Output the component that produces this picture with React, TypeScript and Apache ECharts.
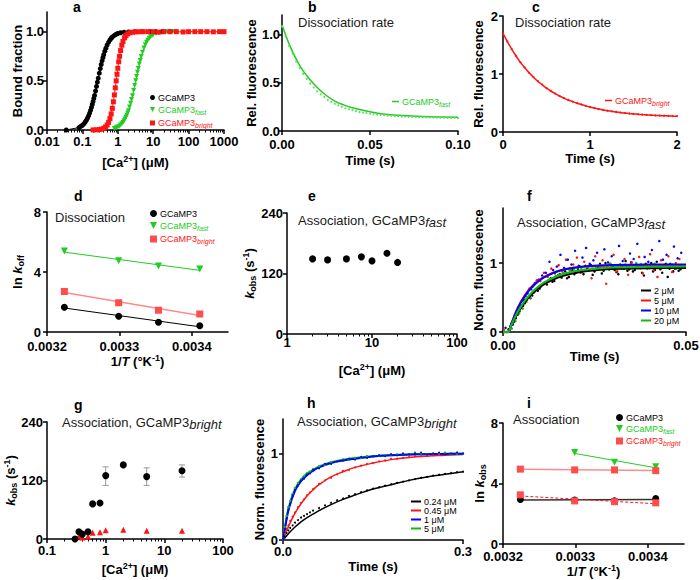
import React, { useEffect, useRef } from 'react';
import * as echarts from 'echarts';

const FONT = '"Liberation Sans", Arial, Helvetica, sans-serif';
const BLACK = '#000000';
const TEXT = '#1a1a1a';
const GREEN = '#22cc22';
const GREEN_DOT = '#66d966';
const RED = '#ff1414';
const LIGHT_RED = '#ff4d4d';
const PINK = '#ff8a8a';
const BLUE = '#0000ff';
const GREY = '#9a9a9a';

// ---------- a: Ca2+ titrations ----------
const A_TICKS = [0.01, 0.1, 1, 10, 100, 1000];
const A_G3_X = [0.035, 0.08, 0.09, 0.1, 0.11, 0.12, 0.13, 0.14, 0.15, 0.16, 0.17, 0.18, 0.19, 0.2, 0.21, 0.22, 0.235, 0.25, 0.265, 0.28, 0.3, 0.32, 0.34, 0.36, 0.38, 0.4, 0.43, 0.46, 0.5, 0.55, 0.6, 0.65, 0.7, 0.8, 0.9, 1.0, 1.2, 1.5, 2, 3, 5, 8, 12, 18, 30];
const A_G3_Y = [0, 0.025, 0.036, 0.048, 0.063, 0.081, 0.1, 0.122, 0.146, 0.172, 0.2, 0.229, 0.259, 0.289, 0.32, 0.351, 0.397, 0.443, 0.486, 0.527, 0.578, 0.625, 0.666, 0.703, 0.736, 0.765, 0.802, 0.832, 0.864, 0.894, 0.916, 0.933, 0.946, 0.963, 0.974, 0.981, 0.989, 0.994, 0.997, 0.999, 1.0, 1.0, 1.0, 1.0, 1.0];
const A_FAST_X = [0.8, 0.9, 1.0, 1.1, 1.2, 1.3, 1.4, 1.5, 1.6, 1.7, 1.8, 1.9, 2.0, 2.15, 2.3, 2.45, 2.6, 2.8, 3.0, 3.2, 3.4, 3.6, 3.8, 4.05, 4.3, 4.6, 5, 5.5, 6, 6.5, 7, 7.7, 8.5, 9.3, 10, 12, 14, 17, 20, 25, 32, 40];
const A_FAST_Y = [0.015, 0.022, 0.03, 0.039, 0.05, 0.063, 0.077, 0.093, 0.111, 0.13, 0.151, 0.173, 0.196, 0.233, 0.271, 0.31, 0.349, 0.401, 0.452, 0.5, 0.545, 0.587, 0.626, 0.67, 0.708, 0.748, 0.79, 0.835, 0.868, 0.893, 0.913, 0.933, 0.949, 0.961, 0.968, 0.981, 0.988, 0.993, 0.996, 0.998, 0.999, 1.0];
const A_BRIGHT_X = [0.2, 0.25, 0.3, 0.35, 0.4, 0.45, 0.5, 0.55, 0.6, 0.65, 0.7, 0.75, 0.8, 0.85, 0.9, 0.95, 1.0, 1.06, 1.12, 1.2, 1.3, 1.4, 1.55, 1.7, 1.9, 2.2, 2.6, 3.2, 4, 5, 7, 10, 14, 20, 30, 45, 70, 100, 150, 220, 330, 500, 750, 1000];
const A_BRIGHT_Y = [0.001, 0.002, 0.004, 0.009, 0.017, 0.03, 0.05, 0.078, 0.116, 0.164, 0.22, 0.287, 0.357, 0.429, 0.5, 0.567, 0.628, 0.694, 0.749, 0.808, 0.862, 0.9, 0.938, 0.96, 0.977, 0.989, 0.995, 0.998, 0.999, 1.0, 1.0, 1.0, 0.995, 1.0, 1.0, 1.0, 0.997, 1.0, 1.0, 1.0, 1.0, 0.998, 1.0, 1.0];

// ---------- b: dissociation, GCaMP3fast ----------
const B_FIT_T = [0, 0.005, 0.01, 0.015, 0.02, 0.025, 0.03, 0.035, 0.04, 0.05, 0.06, 0.07, 0.08, 0.09, 0.1];
const B_FIT_Y = [1.1, 0.86, 0.68, 0.55, 0.45, 0.37, 0.31, 0.27, 0.24, 0.2, 0.17, 0.16, 0.15, 0.145, 0.143];
const B_DOT_STEP = 0.002;
const B_DOT_Y = [1.08, 0.98, 0.88, 0.8, 0.72, 0.65, 0.59, 0.54, 0.49, 0.45, 0.41, 0.38, 0.35, 0.32, 0.3, 0.28, 0.265, 0.25, 0.235, 0.225, 0.215, 0.205, 0.195, 0.19, 0.185, 0.18, 0.175, 0.17, 0.168, 0.165, 0.16, 0.158, 0.155, 0.152, 0.15, 0.148, 0.147, 0.145, 0.144, 0.143, 0.142, 0.141, 0.14, 0.139, 0.138, 0.138, 0.137, 0.136, 0.135, 0.135, 0.134];

// ---------- c: dissociation, GCaMP3bright ----------
const C_STEP = 0.05;
const C_Y = [1.7, 1.56, 1.43, 1.31, 1.2, 1.11, 1.02, 0.945, 0.875, 0.815, 0.757, 0.707, 0.662, 0.62, 0.585, 0.552, 0.523, 0.497, 0.474, 0.45, 0.43, 0.412, 0.396, 0.381, 0.368, 0.356, 0.345, 0.335, 0.327, 0.319, 0.312, 0.306, 0.3, 0.295, 0.29, 0.286, 0.283, 0.28, 0.277, 0.274, 0.272];

// ---------- d: Arrhenius, dissociation ----------
const D_INV_T = [0.003224, 0.003299, 0.003354, 0.003411];
const D_G3 = [1.65, 1.05, 0.65, 0.42];
const D_FAST = [5.4, 4.75, 4.4, 4.2];
const D_BRIGHT = [2.7, 1.95, 1.45, 1.2];

// ---------- e: association, GCaMP3fast ----------
const E_CA = [2, 3, 5, 7.5, 10, 15, 20];
const E_KOBS = [149, 147, 149, 153, 145, 160, 142];
const E_SEM = [2, 4, 4, 2, 2, 2, 2];

// ---------- f: association traces, GCaMP3fast ----------
const F_STEP = 0.001;
const F_2 = [0.02, 0.0, 0.08, 0.15, 0.25, 0.35, 0.42, 0.5, 0.53, 0.62, 0.63, 0.7, 0.69, 0.78, 0.74, 0.82, 0.79, 0.88, 0.8, 0.9, 0.86, 0.95, 0.84, 0.92, 0.97, 0.88, 0.93, 0.85, 1.0, 0.91, 0.95, 0.87, 0.98, 0.92, 0.89, 1.01, 0.9, 0.96, 0.86, 0.99, 0.93, 0.88, 1.02, 0.91, 0.95, 0.8, 0.97, 0.92, 0.89];
const F_2B = [0.0, 0.04, 0.11, 0.2, 0.3, 0.38, 0.47, 0.49, 0.58, 0.6, 0.68, 0.72, 0.74, 0.73, 0.8, 0.84, 0.83, 0.78, 0.89, 0.84, 0.91, 0.87, 0.96, 0.9, 0.83, 0.94, 0.99, 0.89, 0.93, 0.97, 0.9, 0.84, 0.95, 1.03, 0.91, 0.88, 0.97, 0.93, 0.82, 0.96, 1.0, 0.9, 0.94, 0.86, 0.99, 0.92, 0.88, 0.95, 0.91];
const F_5 = [0.03, 0.0, 0.12, 0.24, 0.36, 0.45, 0.52, 0.63, 0.66, 0.75, 0.74, 0.86, 0.8, 0.92, 0.85, 0.97, 0.88, 1.05, 0.9, 0.98, 1.08, 0.86, 1.02, 0.95, 0.78, 1.1, 0.92, 1.04, 0.7, 0.99, 1.12, 0.88, 0.96, 1.06, 0.83, 1.01, 0.93, 1.09, 0.85, 0.98, 1.13, 0.9, 0.8, 1.04, 0.95, 1.1, 0.87, 1.0, 1.06];
const F_10 = [0.06, 0.02, 0.11, 0.25, 0.38, 0.47, 0.56, 0.62, 0.71, 0.76, 0.82, 0.86, 1.02, 0.9, 0.95, 1.12, 0.93, 1.05, 0.98, 1.18, 0.96, 1.08, 1.22, 0.99, 1.04, 1.15, 0.92, 1.2, 1.01, 1.1, 0.97, 1.25, 1.03, 0.94, 1.14, 1.06, 1.28, 0.98, 1.09, 1.02, 1.19, 0.95, 1.32, 1.05, 1.12, 0.99, 1.24, 1.07, 1.15];
const F_20 = [0.0, 0.01, 0.05, 0.16, 0.27, 0.34, 0.44, 0.5, 0.57, 0.63, 0.66, 0.72, 0.75, 0.78, 0.81, 0.83, 0.86, 0.85, 0.89, 0.91, 0.88, 0.93, 0.9, 0.96, 0.92, 0.94, 0.97, 0.91, 0.95, 0.99, 0.93, 0.96, 0.92, 0.98, 0.95, 0.93, 1.0, 0.94, 0.97, 0.92, 0.96, 0.99, 0.93, 0.95, 0.97, 0.94, 0.98, 0.92, 0.96];
const F_FIT_T = [0, 0.0015, 0.002, 0.004, 0.006, 0.008, 0.01, 0.012, 0.015, 0.018, 0.022, 0.026, 0.03, 0.04, 0.05];
const F_FIT_2 = [0, 0, 0.063, 0.274, 0.434, 0.555, 0.647, 0.716, 0.79, 0.838, 0.877, 0.9, 0.913, 0.926, 0.929];
const F_FIT_5 = [0, 0, 0.083, 0.351, 0.538, 0.669, 0.76, 0.823, 0.885, 0.921, 0.946, 0.958, 0.964, 0.969, 0.97];
const F_FIT_10 = [0, 0, 0.079, 0.339, 0.524, 0.656, 0.749, 0.815, 0.881, 0.921, 0.95, 0.965, 0.972, 0.979, 0.98];
const F_FIT_20 = [0, 0, 0.067, 0.289, 0.455, 0.58, 0.674, 0.743, 0.816, 0.864, 0.902, 0.923, 0.935, 0.946, 0.949];

// ---------- g: association, GCaMP3bright ----------
const G_X = [0.3, 0.35, 0.4, 0.5, 0.6, 0.8, 1, 2, 5, 20];
const G_Y = [0, 15, 10, 15, 72, 74, 130, 152, 128, 140];
const G_ERR_X = [1, 5, 20];
const G_ERR_LO = [110, 110, 127];
const G_ERR_HI = [148, 146, 152];
const G_RED_X = [0.35, 0.4, 0.5, 0.6, 0.8, 1, 2, 5, 20];
const G_RED_Y = [6, 3, 5, 13, 14, 18, 19, 17, 17];

// ---------- h: association traces, GCaMP3bright ----------
const H_FIT_T = [0, 0.005, 0.01, 0.02, 0.03, 0.04, 0.05, 0.06, 0.08, 0.1, 0.12, 0.15, 0.18, 0.21, 0.24, 0.27, 0.3];
const H_FIT_024 = [0, 0.04, 0.08, 0.15, 0.21, 0.26, 0.3, 0.34, 0.41, 0.47, 0.52, 0.59, 0.64, 0.69, 0.73, 0.76, 0.79];
const H_FIT_045 = [0, 0.09, 0.17, 0.31, 0.42, 0.51, 0.58, 0.64, 0.73, 0.79, 0.84, 0.89, 0.93, 0.955, 0.97, 0.98, 0.99];
const H_FIT_1 = [0, 0.2, 0.37, 0.57, 0.68, 0.75, 0.8, 0.84, 0.89, 0.92, 0.94, 0.965, 0.98, 0.988, 0.993, 0.996, 0.998];
const H_FIT_5 = [0, 0.22, 0.39, 0.59, 0.7, 0.77, 0.81, 0.85, 0.9, 0.93, 0.95, 0.97, 0.982, 0.99, 0.995, 0.997, 0.998];
const H_DOT_T = [0, 0.003, 0.006, 0.009, 0.012, 0.016, 0.02, 0.025, 0.03, 0.035, 0.04, 0.045, 0.05, 0.06, 0.07, 0.08, 0.09, 0.1, 0.11, 0.12, 0.13, 0.14, 0.15, 0.16, 0.17, 0.18, 0.19, 0.2, 0.21, 0.22, 0.23, 0.24, 0.25, 0.26, 0.27, 0.28, 0.29, 0.3];
const H_DOT_024 = [0, 0.04, 0.08, 0.11, 0.14, 0.17, 0.2, 0.23, 0.26, 0.28, 0.3, 0.32, 0.34, 0.37, 0.4, 0.43, 0.46, 0.48, 0.51, 0.53, 0.555, 0.575, 0.595, 0.61, 0.63, 0.645, 0.66, 0.675, 0.69, 0.705, 0.72, 0.73, 0.745, 0.755, 0.765, 0.775, 0.785, 0.79];
const H_DOT_045 = [0, 0.07, 0.13, 0.17, 0.22, 0.27, 0.32, 0.38, 0.43, 0.47, 0.52, 0.55, 0.59, 0.65, 0.69, 0.72, 0.76, 0.8, 0.81, 0.84, 0.86, 0.88, 0.89, 0.91, 0.92, 0.94, 0.94, 0.95, 0.96, 0.97, 0.97, 0.98, 0.98, 0.99, 0.99, 1.0, 1.01, 1.0];
const H_DOT_1 = [0, 0.13, 0.25, 0.35, 0.42, 0.52, 0.58, 0.63, 0.69, 0.71, 0.76, 0.77, 0.81, 0.83, 0.88, 0.88, 0.91, 0.92, 0.94, 0.93, 0.96, 0.95, 0.97, 0.98, 0.97, 0.99, 0.98, 1.0, 0.99, 1.0, 1.01, 0.99, 1.0, 1.01, 0.99, 1.0, 1.01, 1.0];
const H_DOT_5 = [0, 0.15, 0.28, 0.38, 0.45, 0.53, 0.6, 0.66, 0.7, 0.74, 0.77, 0.79, 0.82, 0.85, 0.87, 0.9, 0.91, 0.93, 0.93, 0.95, 0.95, 0.97, 0.97, 0.98, 0.98, 0.99, 0.99, 1.0, 0.99, 1.01, 1.0, 0.99, 1.0, 1.0, 1.01, 0.99, 1.0, 1.0];

// ---------- i: Arrhenius, association ----------
const I_INV_T = [0.003224, 0.003299, 0.003354, 0.003411];
const I_G3 = [2.95, 2.9, 2.85, 3.0];
const I_FAST_X = [0.003299, 0.003354, 0.003411];
const I_FAST = [6.05, 5.4, 5.1];
const I_BRIGHT_HI = [4.95, 4.9, 4.9, 4.85];
const I_BRIGHT_LO = [3.25, 2.85, 2.8, 2.72];

// ---------- helpers ----------
const zip = (xs: number[], ys: number[]) => xs.map((x, i) => [x, ys[i]]);
const stepped = (step: number, ys: number[], offset = 0) => ys.map((y, i) => [offset + i * step, y]);
const linFit = (xs: number[], ys: number[]) => {
  const n = xs.length;
  const mx = xs.reduce((s, v) => s + v, 0) / n;
  const my = ys.reduce((s, v) => s + v, 0) / n;
  let sxx = 0, sxy = 0;
  for (let i = 0; i < n; i++) { sxx += (xs[i] - mx) ** 2; sxy += (xs[i] - mx) * (ys[i] - my); }
  const k = sxy / sxx;
  return [[xs[0], my + k * (xs[0] - mx)], [xs[n - 1], my + k * (xs[n - 1] - mx)]];
};
const minors = (decades: number[]) => decades.flatMap((d) => [2, 3, 4, 5, 6, 7, 8, 9].map((m) => +(m * d).toPrecision(3)));

const TRI_DOWN = 'path://M0,0 L10,0 L5,9 Z';

const NAME_RICH = {
  b: { fontFamily: FONT, fontWeight: 'bold', fontSize: 13, color: BLACK },
  bi: { fontFamily: FONT, fontWeight: 'bold', fontStyle: 'italic', fontSize: 13, color: BLACK },
  sub: { fontFamily: FONT, fontWeight: 'bold', fontSize: 9, color: BLACK, padding: [7, 0, 0, 0] },
  sup: { fontFamily: FONT, fontWeight: 'bold', fontSize: 9, color: BLACK, padding: [0, 0, 7, 0] },
};
const CA_NAME = '{b|[Ca}{sup|2+}{b|] (μM)}';
const INVT_NAME = '{b|1/}{bi|T}{b| (°K}{sup|-1}{b|)}';
const KOBS_NAME = '{bi|k}{sub|obs}{b| (s}{sup|-1}{b|)}';

function axis(dim: 'x' | 'y', gridIndex: number, type: string, min: number, max: number, ticks: number[], fmt: (v: number) => string, name: string, nameGap: number, margin: number) {
  const o: any = {
    gridIndex, type, min, max,
    position: dim === 'x' ? 'bottom' : 'left',
    axisLine: { show: true, onZero: false, lineStyle: { color: BLACK, width: 1.5 } },
    axisTick: { show: true, inside: false, length: 4, lineStyle: { color: BLACK, width: 1.5 }, customValues: ticks },
    axisLabel: { show: true, customValues: ticks, formatter: fmt, color: BLACK, fontFamily: FONT, fontWeight: 'bold', fontSize: 13, lineHeight: 11, margin },
    splitLine: { show: false },
    name, nameLocation: 'middle', nameGap, nameMoveOverlap: false,
    nameTextStyle: { fontFamily: FONT, fontWeight: 'bold', fontSize: 13, color: BLACK, rich: NAME_RICH },
  };
  if (type === 'log') o.logBase = 10;
  return o;
}
function minorAxis(gridIndex: number, min: number, max: number, values: number[]) {
  return {
    gridIndex, type: 'log', logBase: 10, min, max, position: 'bottom',
    axisLine: { show: false }, axisLabel: { show: false }, splitLine: { show: false },
    axisTick: { show: true, inside: false, length: 2.5, lineStyle: { color: BLACK, width: 1 }, customValues: values },
  };
}

const LEG_RICH: any = {};
[['k', BLACK], ['g', GREEN], ['r', RED]].forEach(([key, c]) => {
  LEG_RICH[key] = { fontFamily: FONT, fontSize: 9, color: c };
  LEG_RICH[key + 's'] = { fontFamily: FONT, fontSize: 7, fontStyle: 'italic', color: c, padding: [5, 0, 0, 0] };
});
const LEGEND_LABELS: Record<string, string> = {
  a_g3: '{k|GCaMP3}', a_fast: '{g|GCaMP3}{gs|fast}', a_bright: '{r|GCaMP3}{rs|bright}',
  b_fit: '{g|GCaMP3}{gs|fast}', c_fit: '{r|GCaMP3}{rs|bright}',
  d_g3: '{k|GCaMP3}', d_fast: '{g|GCaMP3}{gs|fast}', d_bright: '{r|GCaMP3}{rs|bright}',
  i_g3: '{k|GCaMP3}', i_fast: '{g|GCaMP3}{gs|fast}', i_bright: '{r|GCaMP3}{rs|bright}',
  f_2: '{k|2 μM}', f_5: '{k|5 μM}', f_10: '{k|10 μM}', f_20: '{k|20 μM}',
  h_024: '{k|0.24 μM}', h_045: '{k|0.45 μM}', h_1: '{k|1 μM}', h_5: '{k|5 μM}',
};
function legend(items: [string, string][], left: number, top: number, iw: number, ih: number, gap: number) {
  return {
    data: items.map(([name, icon]) => ({ name, icon })), left, top, orient: 'vertical', selectedMode: false, padding: 0,
    itemWidth: iw, itemHeight: ih, itemGap: gap, symbolKeepAspect: false,
    textStyle: { fontFamily: FONT, fontSize: 9, color: BLACK, rich: LEG_RICH, padding: [0, 0, 0, -2] },
    formatter: (n: string) => LEGEND_LABELS[n] || n,
  };
}

function errorBars(name: string, xi: number, xs: number[], lo: number[], hi: number[]) {
  return {
    name, type: 'custom', xAxisIndex: xi, yAxisIndex: xi, z: 1,
    data: xs.map((x, i) => [x, lo[i], hi[i]]),
    encode: { x: 0, y: [1, 2] },
    renderItem: (_p: any, api: any) => {
      const a = api.coord([api.value(0), api.value(1)]);
      const b = api.coord([api.value(0), api.value(2)]);
      const style = { stroke: GREY, lineWidth: 1 };
      return {
        type: 'group', children: [
          { type: 'line', shape: { x1: a[0], y1: a[1], x2: b[0], y2: b[1] }, style },
          { type: 'line', shape: { x1: a[0] - 3, y1: a[1], x2: a[0] + 3, y2: a[1] }, style },
          { type: 'line', shape: { x1: b[0] - 3, y1: b[1], x2: b[0] + 3, y2: b[1] }, style },
        ],
      };
    },
  };
}

const scatter = (name: string, idx: number, data: any[], color: string, symbol: string, size: number, rotate = 0) => ({
  name, type: 'scatter', xAxisIndex: idx, yAxisIndex: idx, data, symbol, symbolSize: size, symbolRotate: rotate,
  itemStyle: { color, opacity: 1 }, z: 3,
});
const line = (name: string, idx: number, data: any[], color: string, width: number, extra: any = {}) => ({
  name, type: 'line', xAxisIndex: idx, yAxisIndex: idx, data, symbol: 'none', smooth: false,
  lineStyle: { color, width, ...(extra.lineStyle || {}) }, itemStyle: { color }, z: 2,
  ...Object.fromEntries(Object.entries(extra).filter(([k]) => k !== 'lineStyle')),
});

function buildOption(): any {
  const f1 = (v: number) => v.toFixed(1);
  const f2 = (v: number) => v.toFixed(2);
  const f4 = (v: number) => v.toFixed(4);
  const f0 = (v: number) => String(v);

  const grid = [
    { left: 47, top: 12, width: 177, height: 118 },
    { left: 282, top: 15, width: 176, height: 116 },
    { left: 503, top: 16, width: 174, height: 116 },
    { left: 47, top: 212, width: 181, height: 120 },
    { left: 287, top: 213, width: 170, height: 121 },
    { left: 503, top: 208, width: 183, height: 124 },
    { left: 47, top: 422, width: 176, height: 117 },
    { left: 283, top: 419, width: 180, height: 121 },
    { left: 503, top: 423, width: 181, height: 121 },
  ].map((g) => ({ ...g, containLabel: false, outerBoundsMode: 'none' }));

  const xAxis = [
    axis('x', 0, 'log', 0.01, 1000, A_TICKS, f0, CA_NAME, 24, 6),
    axis('x', 1, 'value', 0, 0.1, [0, 0.05, 0.1], f2, 'Time (s)', 23, 8),
    axis('x', 2, 'value', 0, 2, [0, 1, 2], f0, 'Time (s)', 20, 7),
    axis('x', 3, 'value', 0.0032, 0.00345, [0.0032, 0.0033, 0.0034], f4, INVT_NAME, 21, 9),
    axis('x', 4, 'log', 1, 100, [1, 10, 100], f0, CA_NAME, 28, 3),
    axis('x', 5, 'value', 0, 0.05, [0, 0.05], f2, 'Time (s)', 18, 8),
    axis('x', 6, 'log', 0.1, 100, [0.1, 1, 10, 100], f0, CA_NAME, 22, 6),
    axis('x', 7, 'value', 0, 0.3, [0, 0.3], f1, 'Time (s)', 20, 6),
    axis('x', 8, 'value', 0.0032, 0.00345, [0.0032, 0.0033, 0.0034], f4, INVT_NAME, 19, 7),
    minorAxis(0, 0.01, 1000, minors([0.01, 0.1, 1, 10, 100])),
    minorAxis(4, 1, 100, minors([1, 10])),
    minorAxis(6, 0.1, 100, minors([0.1, 1, 10])),
  ];
  const yAxis = [
    axis('y', 0, 'value', 0, 1.2, [0, 0.5, 1], f1, 'Bound fraction', 23, 3),
    axis('y', 1, 'value', 0, 1.2, [0, 0.5, 1], f1, 'Rel. fluorescence', 24, 2),
    axis('y', 2, 'value', 0, 2, [0, 1, 2], f0, 'Rel. fluorescence', 18, 5),
    axis('y', 3, 'value', 0, 8, [0, 4, 8], f0, '{b|ln }{bi|k}{sub|off}', 22, 6),
    axis('y', 4, 'value', 0, 240, [0, 120, 240], f0, KOBS_NAME, 30, 4),
    axis('y', 5, 'value', 0, 1.8, [0, 1], f0, 'Norm. fluorescence', 18, 6),
    axis('y', 6, 'value', 0, 240, [0, 120, 240], f0, KOBS_NAME, 29, 4),
    axis('y', 7, 'value', 0, 1.4, [0, 1], f0, 'Norm. fluorescence', 17, 5),
    axis('y', 8, 'value', 0, 8, [0, 4, 8], f0, '{b|ln }{bi|k}{sub|obs}', 16, 5),
  ];

  const series: any[] = [
    // a
    { ...line('a_fast', 0, zip(A_FAST_X, A_FAST_Y), GREEN, 1), symbol: 'triangle', symbolRotate: 180, symbolSize: 5, showSymbol: true },
    { ...line('a_g3', 0, zip(A_G3_X, A_G3_Y), BLACK, 1), symbol: 'circle', symbolSize: 5, showSymbol: true },
    { ...line('a_bright', 0, zip(A_BRIGHT_X, A_BRIGHT_Y), RED, 1), symbol: 'rect', symbolSize: 5, showSymbol: true },
    // b
    scatter('b_dots', 1, stepped(B_DOT_STEP, B_DOT_Y), GREEN_DOT, 'circle', 2),
    line('b_fit', 1, zip(B_FIT_T, B_FIT_Y), GREEN, 1.5, { smooth: 0.4 }),
    // c
    scatter('c_dots', 2, stepped(C_STEP, C_Y), RED, 'circle', 2),
    line('c_fit', 2, stepped(C_STEP, C_Y), RED, 1.5, { smooth: 0.3 }),
    // d
    line('d_g3_fit', 3, linFit(D_INV_T, D_G3), BLACK, 1),
    line('d_fast_fit', 3, linFit(D_INV_T, D_FAST), GREEN, 1),
    line('d_bright_fit', 3, linFit(D_INV_T, D_BRIGHT), PINK, 1.5),
    scatter('d_g3', 3, zip(D_INV_T, D_G3), BLACK, 'circle', 7),
    scatter('d_fast', 3, zip(D_INV_T, D_FAST), GREEN, 'triangle', 7, 180),
    scatter('d_bright', 3, zip(D_INV_T, D_BRIGHT), LIGHT_RED, 'rect', 7),
    // e
    errorBars('e_err', 4, E_CA, E_KOBS.map((v, i) => v - E_SEM[i]), E_KOBS.map((v, i) => v + E_SEM[i])),
    scatter('e_pts', 4, zip(E_CA, E_KOBS), BLACK, 'circle', 7),
    // f
    scatter('f_2d', 5, stepped(F_STEP, F_2), BLACK, 'circle', 2.5),
    scatter('f_2e', 5, stepped(F_STEP, F_2B, 0.0005), BLACK, 'circle', 2.5),
    scatter('f_5d', 5, stepped(F_STEP, F_5, 0.0002), RED, 'circle', 2.5),
    scatter('f_10d', 5, stepped(F_STEP, F_10, 0.0007), BLUE, 'circle', 2.5),
    scatter('f_20d', 5, stepped(F_STEP, F_20, 0.0004), '#11bb11', 'circle', 2.5),
    line('f_2', 5, zip(F_FIT_T, F_FIT_2), BLACK, 2, { smooth: 0.3, z: 4 }),
    line('f_5', 5, zip(F_FIT_T, F_FIT_5), RED, 2, { smooth: 0.3, z: 4 }),
    line('f_10', 5, zip(F_FIT_T, F_FIT_10), BLUE, 2, { smooth: 0.3, z: 4 }),
    line('f_20', 5, zip(F_FIT_T, F_FIT_20), '#11bb11', 2, { smooth: 0.3, z: 4 }),
    // g
    errorBars('g_err', 6, G_ERR_X, G_ERR_LO, G_ERR_HI),
    scatter('g_red', 6, zip(G_RED_X, G_RED_Y), RED, 'triangle', 6),
    scatter('g_g3', 6, zip(G_X, G_Y), BLACK, 'circle', 7),
    // h
    scatter('h_024d', 7, zip(H_DOT_T, H_DOT_024), BLACK, 'circle', 2),
    scatter('h_045d', 7, zip(H_DOT_T, H_DOT_045), RED, 'circle', 2),
    scatter('h_5d', 7, zip(H_DOT_T, H_DOT_5), '#11bb11', 'circle', 2.5),
    scatter('h_1d', 7, zip(H_DOT_T, H_DOT_1), BLUE, 'circle', 2),
    line('h_024', 7, zip(H_FIT_T, H_FIT_024), BLACK, 1.5, { smooth: 0.4 }),
    line('h_045', 7, zip(H_FIT_T, H_FIT_045), RED, 1.5, { smooth: 0.4 }),
    line('h_5', 7, zip(H_FIT_T, H_FIT_5), '#11bb11', 2, { smooth: 0.4 }),
    line('h_1', 7, zip(H_FIT_T, H_FIT_1), BLUE, 2, { smooth: 0.4 }),
    // i
    line('i_g3_fit', 8, linFit(I_INV_T, I_G3), '#333333', 1.5),
    line('i_fast_fit', 8, linFit(I_FAST_X, I_FAST), GREEN, 1),
    line('i_bhi_fit', 8, linFit(I_INV_T, I_BRIGHT_HI), PINK, 1.5),
    line('i_blo_fit', 8, linFit(I_INV_T, I_BRIGHT_LO), RED, 1, { lineStyle: { type: [3, 2] } }),
    scatter('i_g3', 8, zip(I_INV_T, I_G3), BLACK, 'circle', 7),
    scatter('i_fast', 8, zip(I_FAST_X, I_FAST), GREEN, 'triangle', 7, 180),
    scatter('i_bright', 8, zip(I_INV_T, I_BRIGHT_HI), LIGHT_RED, 'rect', 7),
    scatter('i_bright_lo', 8, zip(I_INV_T, I_BRIGHT_LO), LIGHT_RED, 'rect', 7),
  ];

  const letter = { fontFamily: FONT, fontWeight: 'bold', fontSize: 14, color: BLACK };
  const capRich = {
    n: { fontFamily: FONT, fontSize: 13, color: TEXT },
    s: { fontFamily: FONT, fontSize: 13, fontStyle: 'italic', color: TEXT, padding: [4, 0, 0, 0] },
  };
  const letters: [string, number, number][] = [['a', 73, 0], ['b', 308, 0], ['c', 532, 0], ['d', 74, 189], ['e', 308, 189], ['f', 527, 189], ['g', 74, 398], ['h', 307, 396], ['i', 527, 396]];
  const captions: [string, number, number][] = [
    ['{n|Dissociation rate}', 298, 16], ['{n|Dissociation rate}', 515, 16], ['{n|Dissociation}', 55, 211],
    ['{n|Association, GCaMP3}{s|fast}', 298, 212], ['{n|Association, GCaMP3}{s|fast}', 517, 214],
    ['{n|Association, GCaMP3}{s|bright}', 62, 414], ['{n|Association, GCaMP3}{s|bright}', 297, 413],
    ['{n|Association}', 513, 413],
  ];
  const title = [
    ...letters.map(([t, left, top]) => ({ text: t, left, top, padding: 0, textStyle: letter })),
    ...captions.map(([t, left, top]) => ({ text: t, left, top, padding: 0, textStyle: { rich: capRich, fontSize: 13, fontWeight: 'normal' } })),
  ];

  const legendList = [
    legend([['a_g3', 'circle'], ['a_fast', TRI_DOWN], ['a_bright', 'rect']], 150, 93, 5, 5, 3),
    legend([['b_fit', 'rect']], 392, 97, 7, 1.5, 0),
    legend([['c_fit', 'rect']], 605, 96, 7, 1.5, 0),
    legend([['d_g3', 'circle'], ['d_fast', TRI_DOWN], ['d_bright', 'rect']], 150, 209, 7, 7, 3),
    legend([['f_2', 'rect'], ['f_5', 'rect'], ['f_10', 'rect'], ['f_20', 'rect']], 641, 286, 10, 2, 1),
    legend([['h_024', 'rect'], ['h_045', 'rect'], ['h_1', 'rect'], ['h_5', 'rect']], 411, 497, 10, 2, 0),
    legend([['i_g3', 'circle'], ['i_fast', TRI_DOWN], ['i_bright', 'rect']], 616, 413, 7, 7, 2),
  ];

  return {
    animation: false,
    backgroundColor: '#ffffff',
    textStyle: { fontFamily: FONT },
    title, grid, xAxis, yAxis, series, legend: legendList,
  };
}

export default function App() {
  const ref = useRef<HTMLDivElement>(null);
  useEffect(() => {
    const chart = echarts.init(ref.current as HTMLDivElement, null, { renderer: 'svg' });
    chart.setOption(buildOption());
    return () => chart.dispose();
  }, []);
  return <div ref={ref} style={{ position: 'absolute', left: 0, top: 0, width: 700, height: 580, background: '#fff' }} />;
}
